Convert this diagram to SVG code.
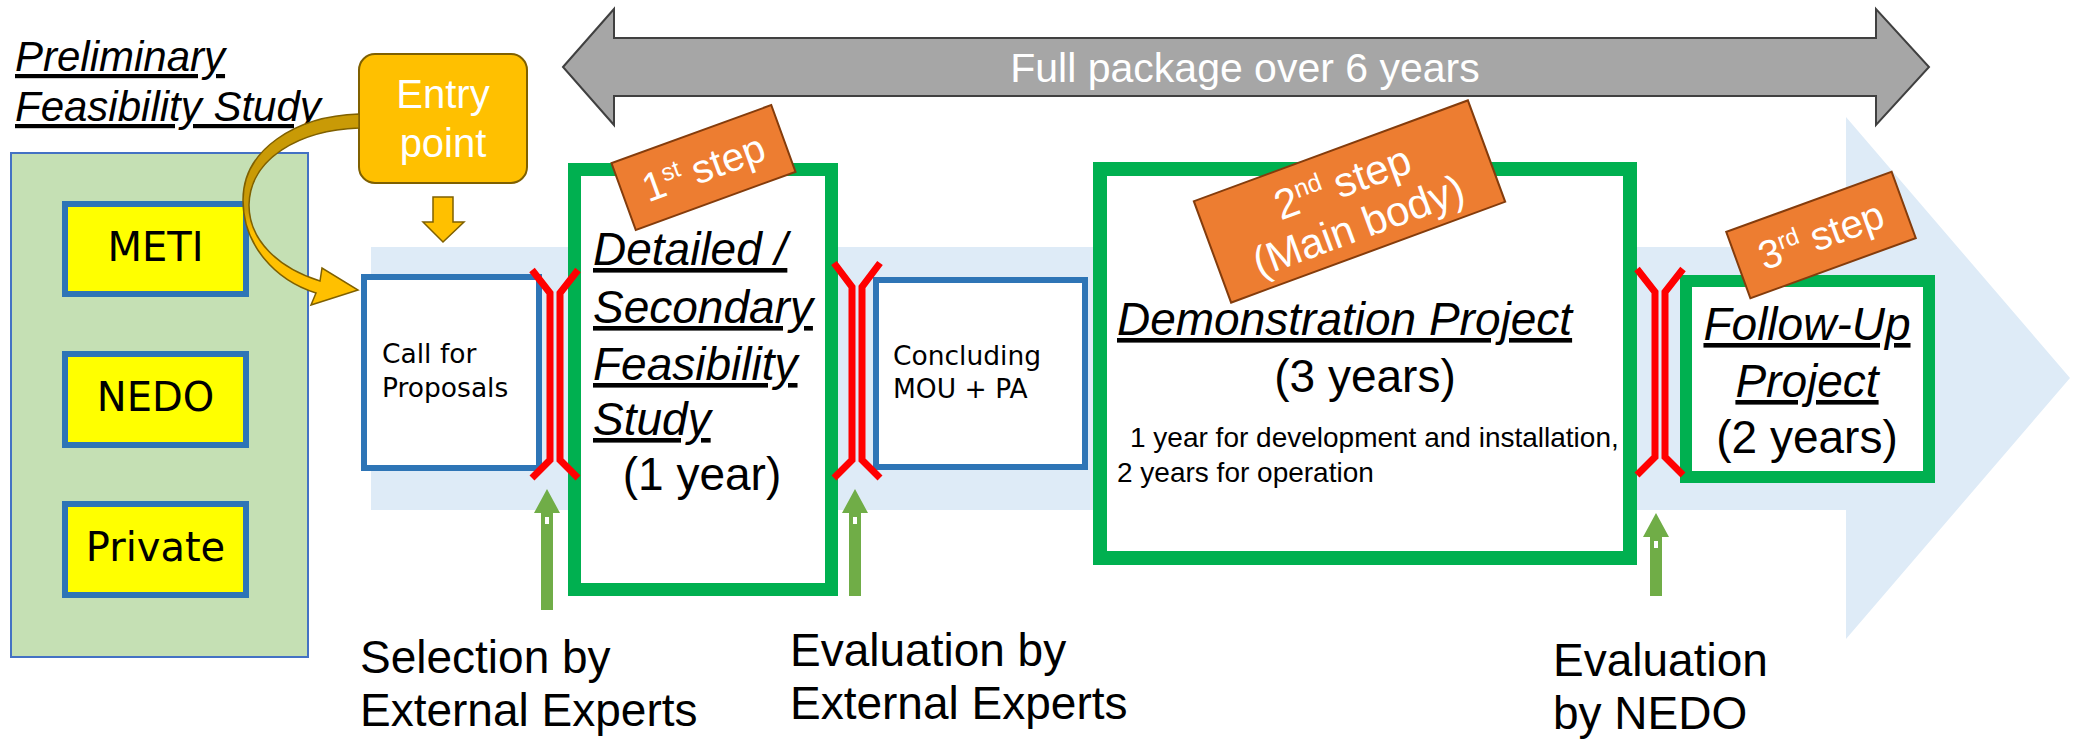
<svg xmlns="http://www.w3.org/2000/svg" width="2078" height="742" viewBox="0 0 2078 742">
<defs>
<style>
.sans{font-family:"Liberation Sans",Arial,sans-serif}
.dv{font-family:"DejaVu Sans","Liberation Sans",sans-serif}
.ital{font-style:italic;text-decoration:underline}
.blk{fill:#000}
.wht{fill:#fff}
.greenbox{fill:#fff;stroke:#00b050}
.bluebox{fill:#fff;stroke:#2e75b6;stroke-width:6}
.ybox{fill:#ffff00;stroke:#2e75b6;stroke-width:6}
.tag{fill:#ed7d31;stroke:#843c0c;stroke-width:2}
.br{fill:none;stroke:#ff0000;stroke-width:7;stroke-linejoin:miter}
.up{fill:#70ad47}
</style>
<linearGradient id="ribbon" gradientUnits="userSpaceOnUse" x1="0" y1="114" x2="0" y2="305">
<stop offset="0" stop-color="#c99a06"/>
<stop offset="0.5" stop-color="#c99a06"/>
<stop offset="0.62" stop-color="#ffc000"/>
<stop offset="1" stop-color="#ffc000"/>
</linearGradient>
</defs>
<rect width="2078" height="742" fill="#fff"/>

<g id="background-arrow">
<polygon points="371,247 1846,247 1846,117 2070,378 1846,639 1846,510 371,510" fill="#deebf7"/>
</g>

<g id="full-package">
<polygon points="563,67 614,9 614,38 1876,38 1876,9 1929,67 1876,125 1876,96 614,96 614,125" fill="#a6a6a6" stroke="#404040" stroke-width="2"/>
<text class="sans wht" x="1245" y="82" font-size="41" text-anchor="middle">Full package over 6 years</text>
</g>

<g id="preliminary-title">
<text class="sans blk ital" x="15" y="71" font-size="42">Preliminary</text>
<text class="sans blk ital" x="15" y="121" font-size="42">Feasibility Study</text>
</g>

<g id="preliminary-panel">
<rect x="11" y="153" width="297" height="504" fill="#c5e0b4" stroke="#4472c4" stroke-width="2"/>
</g>
<g id="meti">
<rect class="ybox" x="65" y="204" width="181" height="90"/>
<text class="dv blk" x="155.5" y="261" font-size="40" text-anchor="middle">METI</text>
</g>
<g id="nedo">
<rect class="ybox" x="65" y="354" width="181" height="91"/>
<text class="dv blk" x="155.5" y="411" font-size="40" text-anchor="middle">NEDO</text>
</g>
<g id="private">
<rect class="ybox" x="65" y="504" width="181" height="91"/>
<text class="dv blk" x="155.5" y="561" font-size="40" text-anchor="middle">Private</text>
</g>

<g id="entry-point">
<rect x="359" y="54" width="168" height="129" rx="16" ry="16" fill="#ffc000" stroke="#7f6000" stroke-width="2"/>
<text class="sans wht" x="443" y="108" font-size="40" text-anchor="middle">Entry</text>
<text class="sans wht" x="443" y="157" font-size="40" text-anchor="middle">point</text>
</g>

<g id="call-for-proposals">
<rect class="bluebox" x="364" y="277" width="175" height="191"/>
<text class="dv blk" x="382" y="363" font-size="26.5">Call for</text>
<text class="dv blk" x="382" y="397" font-size="26.5">Proposals</text>
</g>

<g id="secondary-fs">
<rect class="greenbox" x="574.5" y="169.5" width="257" height="420" stroke-width="13"/>
<text class="sans blk ital" x="593" y="265" font-size="46">Detailed /</text>
<text class="sans blk ital" x="593" y="323" font-size="46">Secondary</text>
<text class="sans blk ital" x="593" y="380" font-size="46">Feasibility</text>
<text class="sans blk ital" x="593" y="435" font-size="46">Study</text>
<text class="sans blk" x="702" y="490" font-size="46" text-anchor="middle">(1 year)</text>
</g>

<g id="mou">
<rect class="bluebox" x="876" y="280" width="209" height="187"/>
<text class="dv blk" x="893" y="365" font-size="26.5">Concluding</text>
<text class="dv blk" x="893" y="398" font-size="26.5">MOU + PA</text>
</g>

<g id="demonstration">
<rect class="greenbox" x="1100" y="169" width="530" height="389" stroke-width="14"/>
<text class="sans blk ital" x="1117" y="335" font-size="46">Demonstration Project</text>
<text class="sans blk" x="1365" y="392" font-size="46" text-anchor="middle">(3 years)</text>
<text class="sans blk" x="1130" y="447" font-size="28">1 year for development and installation,</text>
<text class="sans blk" x="1117" y="482" font-size="28">2 years for operation</text>
</g>

<g id="follow-up">
<rect class="greenbox" x="1686" y="281" width="243" height="196" stroke-width="12"/>
<text class="sans blk ital" x="1807" y="340" font-size="46" text-anchor="middle">Follow-Up</text>
<text class="sans blk ital" x="1807" y="397" font-size="46" text-anchor="middle">Project</text>
<text class="sans blk" x="1807" y="453" font-size="46" text-anchor="middle">(2 years)</text>
</g>

<g id="step1">
<g transform="translate(703.5,167.5) rotate(-20)">
<rect class="tag" x="-85" y="-35.5" width="170" height="71"/>
<text class="sans wht" x="0" y="14" font-size="40" text-anchor="middle">1<tspan font-size="24" dy="-14">st</tspan><tspan dy="14"> step</tspan></text>
</g>
</g>
<g id="step2">
<g transform="translate(1349.5,201.5) rotate(-20.2)">
<rect class="tag" x="-146" y="-54" width="292" height="108"/>
<text class="sans wht" x="0" y="-6" font-size="42" text-anchor="middle">2<tspan font-size="25" dy="-15">nd</tspan><tspan dy="15"> step</tspan></text>
<text class="sans wht" x="0" y="40" font-size="42" text-anchor="middle">(Main body)</text>
</g>
</g>
<g id="step3">
<g transform="translate(1821,235) rotate(-20)">
<rect class="tag" x="-88" y="-35.3" width="176" height="70.6"/>
<text class="sans wht" x="0" y="14" font-size="40" text-anchor="middle">3<tspan font-size="24" dy="-14">rd</tspan><tspan dy="14"> step</tspan></text>
</g>
</g>

<g id="connectors">
<path d="M359,114 C295,116 243,150 243,200 C243,245 275,280 316,293 L311,305 L358,290 L322,268 L320,281 C278,268 249,240 249,205 C250,158 300,130 359,128 Z" fill="url(#ribbon)" stroke="#7f6000" stroke-width="1.5"/>
<polygon points="433,197 453,197 453,222 464,222 443,242 423,222 433,222" fill="#ffc000" stroke="#7f6000" stroke-width="1.5"/>
<path class="br" d="M532,270 L550,293 L550,460 L532,478 M578,270 L560,293 L560,460 L578,478"/>
<path class="br" d="M834,263 L852,287 L852,460 L834,478 M880,263 L862,287 L862,460 L880,478"/>
<path class="br" d="M1637,269 L1655,292 L1655,457 L1637,475 M1683,269 L1665,292 L1665,457 L1683,475"/>
<polygon class="up" points="547,489 560,513 553,513 553,610 541,610 541,513 534,513"/>
<rect x="545" y="517" width="4" height="7" fill="#fff"/>
<polygon class="up" points="855,489 868,513 861,513 861,596 849,596 849,513 842,513"/>
<rect x="853" y="517" width="4" height="7" fill="#fff"/>
<polygon class="up" points="1656,513 1669,537 1662,537 1662,596 1650,596 1650,537 1643,537"/>
<rect x="1654" y="541" width="4" height="7" fill="#fff"/>
</g>

<g id="labels">
<text class="sans blk" x="360" y="673" font-size="46">Selection by</text>
<text class="sans blk" x="360" y="726" font-size="46">External Experts</text>
<text class="sans blk" x="790" y="666" font-size="46">Evaluation by</text>
<text class="sans blk" x="790" y="719" font-size="46">External Experts</text>
<text class="sans blk" x="1553" y="676" font-size="46">Evaluation</text>
<text class="sans blk" x="1553" y="729" font-size="46">by NEDO</text>
</g>
</svg>
